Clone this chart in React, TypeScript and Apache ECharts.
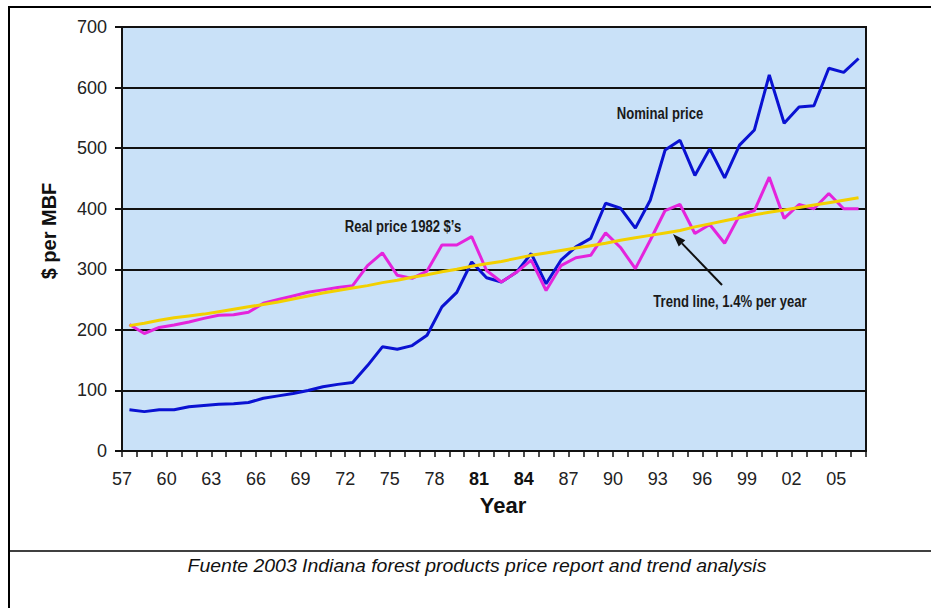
import React, { useEffect, useRef } from 'react';
import * as echarts from 'echarts';

// Years 1957–2006, one category per year
const years = [
  '1957', '1958', '1959', '1960', '1961', '1962', '1963', '1964', '1965', '1966',
  '1967', '1968', '1969', '1970', '1971', '1972', '1973', '1974', '1975', '1976',
  '1977', '1978', '1979', '1980', '1981', '1982', '1983', '1984', '1985', '1986',
  '1987', '1988', '1989', '1990', '1991', '1992', '1993', '1994', '1995', '1996',
  '1997', '1998', '1999', '2000', '2001', '2002', '2003', '2004', '2005', '2006',
];

// Tick positions sit on the category boundaries (57 … 07)
const boundaryYears = [
  '57', '58', '59', '60', '61', '62', '63', '64', '65', '66',
  '67', '68', '69', '70', '71', '72', '73', '74', '75', '76',
  '77', '78', '79', '80', '81', '82', '83', '84', '85', '86',
  '87', '88', '89', '90', '91', '92', '93', '94', '95', '96',
  '97', '98', '99', '00', '01', '02', '03', '04', '05', '06', '07',
];
const labelledYears = ['57', '60', '63', '66', '69', '72', '75', '78', '81', '84', '87', '90', '93', '96', '99', '02', '05'];
const boldYears = ['81', '84'];

// $ per MBF
const nominalPrice = [
  68, 65, 68, 68, 73, 75, 77, 78, 80, 87,
  91, 95, 100, 106, 110, 113, 141, 172, 168, 174,
  191, 238, 262, 312, 286, 279, 295, 326, 276, 315,
  337, 351, 409, 401, 368, 414, 497, 513, 455, 499,
  451, 505, 530, 621, 541, 568, 570, 632, 625, 648,
];
const realPrice1982 = [
  209, 194, 204, 208, 213, 219, 224, 225, 229, 244,
  250, 256, 262, 266, 270, 273, 306, 327, 290, 285,
  297, 340, 340, 354, 298, 279, 295, 315, 265, 306,
  319, 323, 360, 336, 301, 348, 397, 407, 359, 374,
  343, 389, 397, 452, 384, 407, 400, 425, 400, 400,
];
const trendLine = [
  207, 211, 216, 220, 223, 226, 230, 234, 238, 242,
  246, 251, 256, 261, 265, 269, 273, 278, 282, 287,
  291, 296, 300, 305, 309, 313, 318, 323, 327, 331,
  335, 339, 343, 348, 352, 356, 360, 364, 370, 375,
  380, 385, 390, 394, 398, 402, 406, 410, 414, 418,
];

const yMin = 0;
const yMax = 700;
const yStep = 100;

const FONT = '"Liberation Sans", Arial, Helvetica, sans-serif';
const INK = '#111111';

export default function App() {
  const ref = useRef<HTMLDivElement>(null);

  useEffect(() => {
    if (!ref.current) return;
    const chart = echarts.init(ref.current, undefined, { renderer: 'svg' });

    const annotation = (text: string, x: number, y: number) => ({
      type: 'text',
      x,
      y,
      scaleX: 0.77,
      z: 50,
      style: {
        text,
        fill: '#1a1a1a',
        font: `bold 17px ${FONT}`,
        align: 'center',
        verticalAlign: 'middle',
      },
    });

    // arrow pointing at the trend line
    const tail = [722, 285];
    const tip = [673, 234];
    const dx = tip[0] - tail[0];
    const dy = tip[1] - tail[1];
    const len = Math.hypot(dx, dy);
    const ux = dx / len;
    const uy = dy / len;
    const headLen = 13;
    const headHalf = 4.5;
    const bx = tip[0] - ux * headLen;
    const by = tip[1] - uy * headLen;

    chart.setOption({
      animation: false,
      textStyle: { fontFamily: FONT },
      grid: {
        left: 122,
        top: 27,
        width: 744,
        height: 424,
        show: true,
        backgroundColor: '#C9E1F8',
        borderColor: INK,
        borderWidth: 2,
        containLabel: false,
      },
      xAxis: [
        {
          type: 'category',
          data: years,
          boundaryGap: true,
          position: 'bottom',
          axisLine: { show: true, lineStyle: { color: INK, width: 2 } },
          axisTick: { show: true, interval: 0, length: 6, lineStyle: { color: INK, width: 1.5 } },
          axisLabel: { show: false },
          splitLine: { show: false },
        },
        {
          type: 'category',
          data: boundaryYears,
          boundaryGap: false,
          position: 'bottom',
          axisLine: { show: false },
          axisTick: { show: false },
          splitLine: { show: false },
          axisLabel: {
            interval: 0,
            margin: 19,
            fontSize: 18,
            color: '#222222',
            fontFamily: FONT,
            formatter: (v: string) =>
              labelledYears.includes(v) ? (boldYears.includes(v) ? `{b|${v}}` : v) : '',
            rich: {
              b: { fontSize: 18, fontWeight: 'bold', color: INK, fontFamily: FONT },
            },
          },
        },
      ],
      yAxis: {
        type: 'value',
        min: yMin,
        max: yMax,
        interval: yStep,
        axisLine: { show: true, lineStyle: { color: INK, width: 2 } },
        axisTick: { show: true, length: 7, lineStyle: { color: INK, width: 2 } },
        axisLabel: { margin: 15, fontSize: 18, color: '#222222', fontFamily: FONT },
        splitLine: { show: true, lineStyle: { color: INK, width: 2 } },
      },
      series: [
        {
          name: 'Nominal price',
          type: 'line',
          data: nominalPrice,
          symbol: 'none',
          lineStyle: { color: '#0A12D2', width: 3 },
          z: 3,
        },
        {
          name: "Real price 1982 $'s",
          type: 'line',
          data: realPrice1982,
          symbol: 'none',
          lineStyle: { color: '#E424DC', width: 3 },
          z: 4,
        },
        {
          name: 'Trend line',
          type: 'line',
          data: trendLine,
          symbol: 'none',
          lineStyle: { color: '#F2D000', width: 3 },
          z: 5,
        },
      ],
      graphic: [
        // page frame
        { type: 'line', shape: { x1: 9, y1: 7, x2: 931, y2: 7 }, style: { stroke: '#000', lineWidth: 2 } },
        { type: 'line', shape: { x1: 9, y1: 6, x2: 9, y2: 608 }, style: { stroke: '#000', lineWidth: 2 } },
        { type: 'line', shape: { x1: 9, y1: 551, x2: 931, y2: 551 }, style: { stroke: '#000', lineWidth: 1.5 } },
        // axis titles
        {
          type: 'text',
          x: 49,
          y: 231,
          rotation: Math.PI / 2,
          style: {
            text: '$ per MBF',
            fill: INK,
            font: `bold 20px ${FONT}`,
            align: 'center',
            verticalAlign: 'middle',
          },
        },
        {
          type: 'text',
          x: 503,
          y: 505,
          style: {
            text: 'Year',
            fill: INK,
            font: `bold 22px ${FONT}`,
            align: 'center',
            verticalAlign: 'middle',
          },
        },
        // series annotations
        annotation('Nominal price', 660, 113),
        annotation('Real price 1982 $’s', 403, 226),
        annotation('Trend line, 1.4% per year', 730, 301),
        {
          type: 'line',
          z: 50,
          shape: { x1: tail[0], y1: tail[1], x2: bx, y2: by },
          style: { stroke: INK, lineWidth: 2 },
        },
        {
          type: 'polygon',
          z: 50,
          shape: {
            points: [
              [tip[0], tip[1]],
              [bx - uy * headHalf, by + ux * headHalf],
              [bx + uy * headHalf, by - ux * headHalf],
            ],
          },
          style: { fill: INK },
        },
        // source note
        {
          type: 'text',
          x: 477,
          y: 566,
          scaleX: 1.08,
          style: {
            text: 'Fuente 2003 Indiana forest products price report and trend analysis',
            fill: '#111',
            font: `italic 18px ${FONT}`,
            align: 'center',
            verticalAlign: 'middle',
          },
        },
      ],
    });

    return () => chart.dispose();
  }, []);

  return (
    <div
      ref={ref}
      style={{ position: 'fixed', left: 0, top: 0, width: 931, height: 608, background: '#ffffff' }}
    />
  );
}
